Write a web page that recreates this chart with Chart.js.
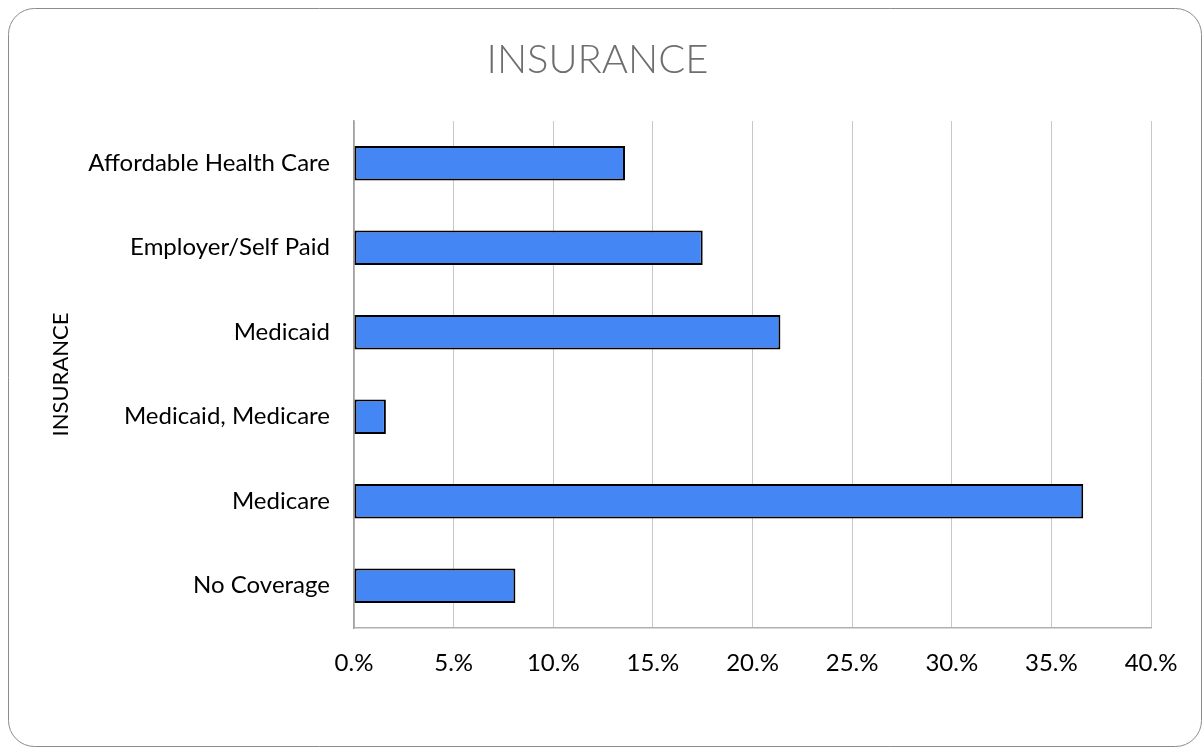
<!DOCTYPE html>
<html>
<head>
<meta charset="utf-8">
<script src="https://cdn.jsdelivr.net/npm/chart.js@4/dist/chart.umd.min.js"></script>
<style>
  html, body { margin: 0; padding: 0; background: #fff; }
  #wrap { width: 1202px; height: 747px; position: relative; }
</style>
</head>
<body>
<div id="wrap"><canvas id="chart1"></canvas></div>
<script>
const categories = ['Affordable Health Care', 'Employer/Self Paid', 'Medicaid', 'Medicaid, Medicare', 'Medicare', 'No Coverage'];
const shares = [13.6, 17.5, 21.4, 1.6, 36.6, 8.1];
const xTicks = [0, 5, 10, 15, 20, 25, 30, 35, 40];

// rounded frame around the whole chart
const framePlugin = {
    id: 'frame',
    beforeDraw(chart) {
        const ctx = chart.ctx;
        ctx.save();
        ctx.fillStyle = '#fff';
        ctx.fillRect(0, 0, chart.width, chart.height);
        ctx.strokeStyle = '#8c8c8c';
        ctx.lineWidth = 1;
        ctx.beginPath();
        ctx.roundRect(8.5, 8.5, chart.width - 9, chart.height - 9, 26);
        ctx.stroke();
        ctx.restore();
    }
};

const ctx = document.getElementById('chart1').getContext('2d');
new Chart(ctx, {
    type: 'bar',
    data: {
        labels: categories,
        datasets: [{
            label: 'INSURANCE',
            data: shares,
            backgroundColor: '#4386f4',
            borderColor: '#000',
            borderWidth: 2,
            borderSkipped: false,
            barPercentage: 0.41,
            categoryPercentage: 1
        }]
    },
    options: {
        indexAxis: 'y',
        responsive: true,
        maintainAspectRatio: false,
        animation: false,
        layout: {
            padding: { left: 44, right: 51, top: 0, bottom: 49 }
        },
        plugins: {
            legend: { display: false },
            tooltip: { enabled: false },
            title: {
                display: true,
                text: 'INSURANCE',
                color: '#6e6e6e',
                font: { family: 'Lato', size: 40, weight: 300 },
                padding: { top: 36, bottom: 37 }
            }
        },
        scales: {
            x: {
                min: 0,
                max: 40,
                afterBuildTicks(scale) {
                    scale.ticks = xTicks.map(v => ({ value: v }));
                },
                afterFit(scale) {
                    scale.height = 70;
                },
                ticks: {
                    color: '#000',
                    padding: 21,
                    font: { family: 'Lato', size: 24 },
                    callback: v => v + '.%'
                },
                grid: {
                    color: '#c8c8c8',
                    lineWidth: 1,
                    drawTicks: false
                },
                border: { color: '#b0b0b0', width: 1.5 }
            },
            y: {
                afterFit(scale) {
                    scale.width = 310;
                },
                title: {
                    display: true,
                    text: 'INSURANCE',
                    color: '#000',
                    font: { family: 'Lato', size: 22 },
                    padding: { top: 4, bottom: 0 }
                },
                ticks: {
                    color: '#000',
                    padding: 24,
                    font: { family: 'Lato', size: 24 }
                },
                grid: { display: false, drawTicks: false },
                border: { color: '#a0a0a0', width: 1.5 }
            }
        }
    },
    plugins: [framePlugin]
});
</script>
</body>
</html>
